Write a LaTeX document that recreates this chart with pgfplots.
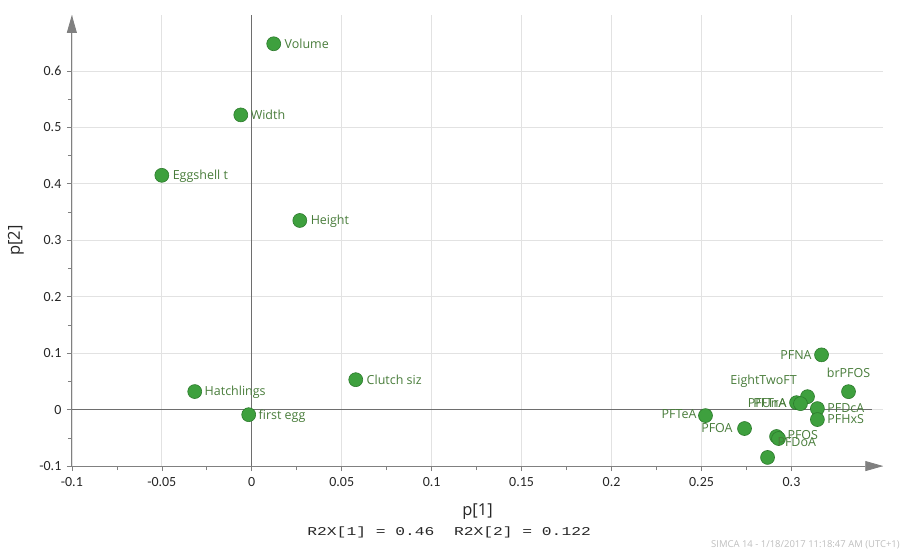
\documentclass[border=0pt]{standalone}
\usepackage{fontspec}
\setmainfont{Open Sans}
\setmonofont{Liberation Mono}
\newfontfamily\tickfont{Carlito}
\usepackage{graphicx}
\usepackage{pgfplots}
\usepackage{pgfplotstable}
\pgfplotsset{compat=1.18}
\usetikzlibrary{arrows.meta}

\definecolor{markfill}{RGB}{62,160,62}
\definecolor{markedge}{RGB}{44,122,44}
\definecolor{labelgreen}{RGB}{72,124,58}
\definecolor{gridgray}{RGB}{226,226,226}
\definecolor{axisgray}{RGB}{128,128,128}
\definecolor{zerogray}{RGB}{110,110,110}
\definecolor{stampgray}{RGB}{190,190,190}

% \lbl{alignment l/r/c}{dx}{dy}{text}: a label offset (pt) from the mark centre
\newcommand{\lbl}[4]{\raisebox{\dimexpr #3pt - 4.4pt\relax}[0pt][0pt]{%
  \makebox[0pt][l]{\hspace*{#2pt}\makebox[0pt][#1]{#4}}}}

% loadings p[1], p[2] and their labels
\pgfplotstableread[col sep=comma]{
x,y,name
0.0122,0.648,\lbl{l}{11}{0}{Volume}
-0.0061,0.522,\lbl{l}{10}{0}{Width}
-0.0500,0.415,\lbl{l}{11}{0}{Eggshell t}
0.0267,0.335,\lbl{l}{11}{0}{Height}
0.0578,0.053,\lbl{l}{11}{0}{Clutch siz}
-0.0317,0.032,\lbl{l}{10}{0}{Hatchlings}
-0.0017,-0.009,\lbl{l}{10}{0}{first egg}
0.3167,0.0970,\lbl{r}{-10}{0}{PFNA}
0.3317,0.0318,\lbl{c}{0}{19}{brPFOS}
0.3089,0.0229,\lbl{c}{-44}{17}{EightTwoFT}
0.3028,0.0123,\lbl{r}{-10}{0}{PFUnA}
0.3050,0.0106,\lbl{r}{-14}{1}{PFTrA}
0.3144,0.0018,\lbl{l}{10}{0}{PFDcA}
0.3144,-0.0176,\lbl{l}{10}{0}{PFHxS}
0.2522,-0.0106,\lbl{r}{-9}{1}{PFTeA}
0.2739,-0.0335,\lbl{r}{-12}{0}{PFOA}
0.2917,-0.0476,\lbl{l}{11}{1}{PFOS}
0.2928,-0.0512,\lbl{l}{-1}{-4}{PFDoA}
0.2867,-0.0847,{}
}\loadings

\begin{document}
\begin{tikzpicture}
\begin{axis}[
  scale only axis,
  width=813pt, height=452pt,
  xmin=-0.1, xmax=0.351,
  ymin=-0.1, ymax=0.699,
  axis lines=left,
  axis line style={axisgray, line width=0.8pt, -{Triangle[length=18pt,width=10pt]}},
  xtick={-0.1,-0.05,0,0.05,0.1,0.15,0.2,0.25,0.3},
  xticklabels={-0.1,-0.05,0,0.05,0.1,0.15,0.2,0.25,0.3},
  ytick={-0.1,0,0.1,0.2,0.3,0.4,0.5,0.6},
  yticklabels={-0.1,0,0.1,0.2,0.3,0.4,0.5,0.6},
  minor x tick num=1, minor y tick num=1,
  tick align=outside,
  major tick length=5pt, minor tick length=4pt,
  tick style={axisgray, line width=0.6pt},
  grid=major,
  major grid style={gridgray, line width=0.7pt},
  ticklabel style={font=\tickfont\fontsize{14}{16}\selectfont, text=black!85},
  xticklabel style={yshift=-3pt},
  yticklabel style={xshift=-2pt},
  xlabel={p[1]}, ylabel={p[2]},
  every axis x label/.style={at={(axis description cs:0.5,-0.102)}, anchor=center,
    font=\fontsize{16.5}{18}\selectfont, text=black!85},
  every axis y label/.style={at={(axis description cs:-0.069,0.5)}, anchor=center, rotate=90,
    font=\fontsize{16.5}{18}\selectfont, text=black!85},
  clip=false,
]
  % reference lines through the origin
  \addplot[zerogray, line width=0.8pt, forget plot] coordinates {(0,-0.1) (0,0.699)};
  \addplot[zerogray, line width=0.8pt, forget plot] coordinates {(-0.1,0) (0.345,0)};

  \addplot[
    only marks,
    mark=*, mark size=7pt,
    mark options={fill=markfill, draw=markedge, line width=0.6pt},
    point meta=explicit symbolic,
    nodes near coords,
    nodes near coords style={anchor=base, inner sep=0pt,
      font=\fontsize{12.5}{14}\selectfont, text=labelgreen},
  ] table[x=x, y=y, meta=name] {\loadings};

  \coordinate (bl) at (rel axis cs:0,0);
  \coordinate (tr) at (rel axis cs:1,1);
  \node[anchor=center, text=black!85] at (axis description cs:0.465,-0.146)
    {\scalebox{1.36}[1]{\ttfamily\fontsize{12}{14}\selectfont R2X[1] = 0.46\ \ R2X[2] = 0.122}};
\end{axis}
\node[anchor=east, text=stampgray, font=\fontsize{9.5}{11}\selectfont]
  at ([shift={(20pt,-79pt)}]tr |- bl) {SIMCA 14 - 1/18/2017 11:18:47 AM (UTC+1)};
\path ([shift={(-72pt,-85pt)}]bl) rectangle ([shift={(18pt,15pt)}]tr);
\end{tikzpicture}
\end{document}
